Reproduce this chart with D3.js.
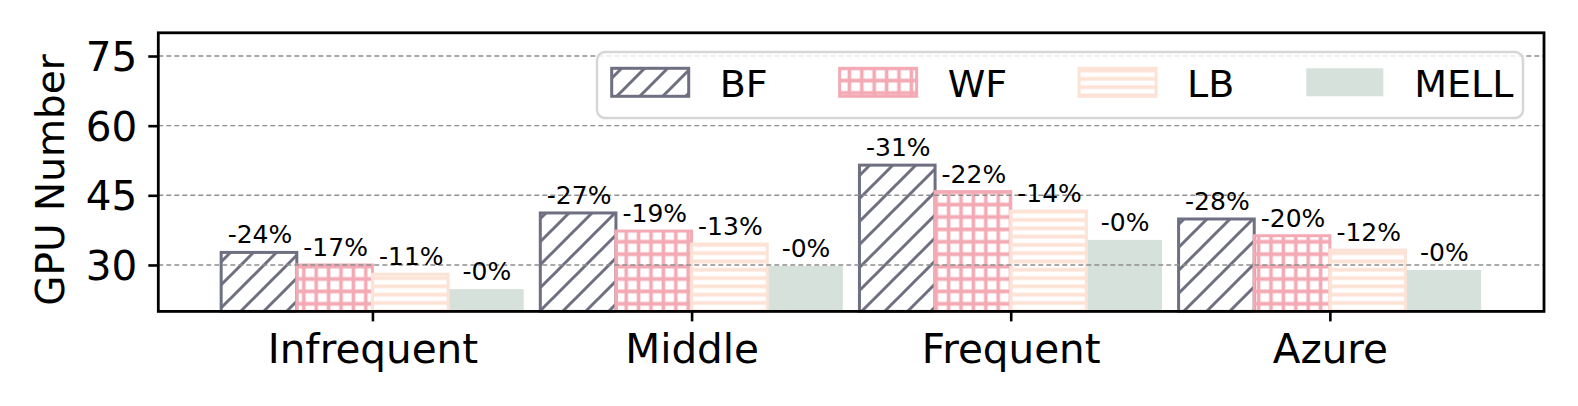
<!DOCTYPE html>
<html>
<head>
<meta charset="utf-8">
<script src="https://cdn.jsdelivr.net/npm/d3@7/dist/d3.min.js"></script>
<style>
  html, body { margin: 0; padding: 0; background: #fff; }
  svg { display: block; font-family: "DejaVu Sans", sans-serif; }
</style>
</head>
<body>
<svg id="chart" width="1578" height="406"></svg>
<script>
const categories = ["Infrequent", "Middle", "Frequent", "Azure"];
const seriesNames = ["BF", "WF", "LB", "MELL"];
const bfValues = [32.7, 41.2, 51.5, 39.9];
const wfValues = [30.0, 37.3, 45.8, 36.3];
const lbValues = [28.0, 34.5, 41.6, 33.2];
const mellValues = [24.8, 29.8, 35.4, 28.9];
const bfLabels = ["-24%", "-27%", "-31%", "-28%"];
const wfLabels = ["-17%", "-19%", "-22%", "-20%"];
const lbLabels = ["-11%", "-13%", "-14%", "-12%"];
const mellLabels = ["-0%", "-0%", "-0%", "-0%"];
const yTicks = [30, 45, 60, 75];
const yDomain = [20, 80];

const seriesValues = [bfValues, wfValues, lbValues, mellValues];
const seriesLabels = [bfLabels, wfLabels, lbLabels, mellLabels];
const colors = ["#6e7082", "#f4aab4", "#fde2d6", "#d6e1db"];
const tickFont = 40.5;
const legendFont = 38;

const svg = d3.select("#chart");
const plot = { left: 158.3, right: 1544, top: 32.8, bottom: 311.4 };
const barW = 0.237;

const x = d3.scaleLinear().domain([-0.671, 3.671]).range([plot.left, plot.right]);
const y = d3.scaleLinear().domain(yDomain).range([plot.bottom, plot.top]);

// hatch patterns
const defs = svg.append("defs");
function hatch(id, w, h, d, color, sw) {
  defs.append("pattern")
    .attr("id", id)
    .attr("patternUnits", "userSpaceOnUse")
    .attr("width", w)
    .attr("height", h)
    .append("path")
    .attr("d", d)
    .attr("stroke", color)
    .attr("stroke-width", sw)
    .attr("fill", "none");
}
const dp = 23;
hatch("h-bf", dp, dp,
  `M0,${dp} L${dp},0 M${-dp / 2},${dp / 2} L${dp / 2},${-dp / 2} M${dp / 2},${dp * 1.5} L${dp * 1.5},${dp / 2}`,
  colors[0], 3);
const gp = 12.4;
hatch("h-wf", gp, gp, `M${gp / 2},0 V${gp} M0,${gp / 2} H${gp}`, colors[1], 3.6);
const lp = 8.3;
hatch("h-lb", 10, lp, `M0,${lp / 2} H10`, colors[2], 3.8);
const fills = ["url(#h-bf)", "url(#h-wf)", "url(#h-lb)", null];

const rows = [];
categories.forEach((c, i) => {
  seriesNames.forEach((s, j) => {
    rows.push({ i, j, v: seriesValues[j][i], label: seriesLabels[j][i] });
  });
});
const bx = (d) => x(d.i + (d.j - 1.5) * barW);
const bwPx = x(barW) - x(0);

// bars
const bars = svg.append("g");
bars.selectAll("rect.base")
  .data(rows)
  .join("rect")
  .attr("class", "base")
  .attr("x", (d) => bx(d) - bwPx / 2)
  .attr("y", (d) => y(d.v))
  .attr("width", bwPx)
  .attr("height", (d) => y(yDomain[0]) - y(d.v))
  .attr("fill", (d) => (d.j === 3 ? colors[3] : "#fff"));
bars.selectAll("rect.hatch")
  .data(rows.filter((d) => d.j < 3))
  .join("rect")
  .attr("class", "hatch")
  .attr("x", (d) => bx(d) - bwPx / 2)
  .attr("y", (d) => y(d.v))
  .attr("width", bwPx)
  .attr("height", (d) => y(yDomain[0]) - y(d.v))
  .attr("fill", (d) => fills[d.j])
  .attr("stroke", (d) => colors[d.j])
  .attr("stroke-width", 3);

// grid
svg.append("g")
  .selectAll("line")
  .data(yTicks)
  .join("line")
  .attr("x1", plot.left)
  .attr("x2", plot.right)
  .attr("y1", (d) => y(d))
  .attr("y2", (d) => y(d))
  .attr("stroke", "#8f8f8f")
  .attr("stroke-width", 1.4)
  .attr("stroke-dasharray", "5,3");

// value labels
svg.append("g")
  .selectAll("text")
  .data(rows)
  .join("text")
  .attr("x", (d) => bx(d) + 1)
  .attr("y", (d) => y(d.v) - 9)
  .attr("text-anchor", "middle")
  .attr("font-size", 25)
  .attr("fill", "#000")
  .text((d) => d.label);

// axes
const yAxis = d3.axisLeft(y).tickValues(yTicks).tickSize(10).tickPadding(11);
const xAxis = d3.axisBottom(x).tickValues(d3.range(categories.length))
  .tickFormat((i) => categories[i]).tickSize(10).tickPadding(12);

const gy = svg.append("g").attr("transform", `translate(${plot.left},0)`).call(yAxis);
const gx = svg.append("g").attr("transform", `translate(0,${plot.bottom})`).call(xAxis);
[gx, gy].forEach((g) => {
  g.select(".domain").remove();
  g.selectAll(".tick line").attr("stroke", "#000").attr("stroke-width", 2.6);
  g.selectAll(".tick text")
    .attr("font-size", tickFont)
    .attr("font-family", "DejaVu Sans")
    .attr("fill", "#000");
});
gy.selectAll(".tick text").attr("dy", "0.36em");
gx.selectAll(".tick text").attr("dy", "0.72em");

svg.append("rect")
  .attr("x", plot.left)
  .attr("y", plot.top)
  .attr("width", plot.right - plot.left)
  .attr("height", plot.bottom - plot.top)
  .attr("fill", "none")
  .attr("stroke", "#000")
  .attr("stroke-width", 2.8);

svg.append("text")
  .attr("transform", `translate(64,180) rotate(-90)`)
  .attr("text-anchor", "middle")
  .attr("font-size", 39)
  .text("GPU Number");

// legend
const legend = svg.append("g");
legend.append("rect")
  .attr("x", 597)
  .attr("y", 52)
  .attr("width", 926)
  .attr("height", 66)
  .attr("rx", 8)
  .attr("fill", "#fff")
  .attr("fill-opacity", 0.8)
  .attr("stroke", "#d6d6d6")
  .attr("stroke-width", 2.5);
let lx = 611.7;
seriesNames.forEach((name, j) => {
  const item = legend.append("g");
  item.append("rect")
    .attr("x", lx)
    .attr("y", 68.3)
    .attr("width", 77)
    .attr("height", 28)
    .attr("fill", j === 3 ? colors[3] : fills[j])
    .attr("stroke", j === 3 ? "none" : colors[j])
    .attr("stroke-width", 3);
  const t = item.append("text")
    .attr("x", lx + 108)
    .attr("y", 96.7)
    .attr("font-size", legendFont)
    .text(name);
  lx += 108 + t.node().getComputedTextLength() + 72;
});
</script>
</body>
</html>
